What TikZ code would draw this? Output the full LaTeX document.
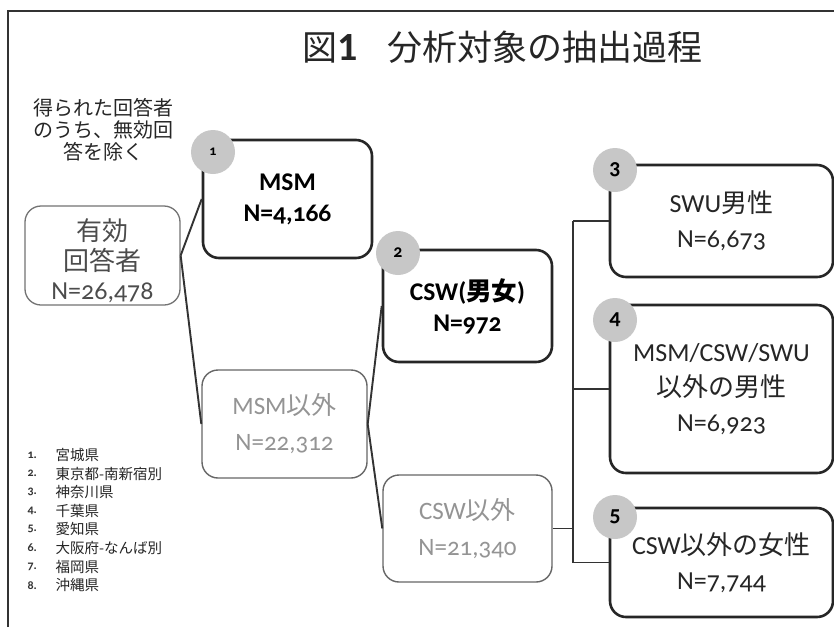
\documentclass[tikz,border=0pt]{standalone}
\usepackage{fontspec}
\setmainfont{Noto Sans CJK JP}
\newfontfamily\lat{Carlito}[Numbers=OldStyle]
\newfontfamily\latlin{Carlito}
\begin{document}
\begin{tikzpicture}[x=1pt,y=-1pt,
  box/.style={draw, rounded corners=16pt, fill=white, align=center, inner sep=0pt},
  strongbox/.style={box, line width=2.6pt, draw=black!85, text=black, font=\fontsize{25.5}{31}\selectfont\bfseries},
  firstbox/.style={box, line width=1.3pt, draw=black!55},
  firsttext/.style={align=center, text=black!70, font=\fontsize{26}{29.5}\selectfont},
  palebox/.style={box, line width=1.4pt, draw=black!60, text=black!42, font=\fontsize{25}{36}\selectfont},
  finalbox/.style={box, line width=2.6pt, draw=black!85, text=black!85, font=\fontsize{26}{35}\selectfont},
  badge/.style={circle, fill=black!22, minimum size=44pt, inner sep=0pt, text=black, font=\lat\bfseries\fontsize{22}{22}\selectfont},
  link/.style={line width=1.9pt, draw=black!80},
  legnum/.style={anchor=west, text=black!80, font=\lat\bfseries\fontsize{12}{12}\selectfont},
  legtxt/.style={anchor=west, text=black!85, font=\fontsize{14.5}{14.5}\selectfont},
]
\useasboundingbox (0,0) rectangle (834,627);
\fill[white] (0,0) rectangle (834,627);
% frame
\draw[line width=1.6pt, black!80] (8,627) -- (8,11) -- (834,11);
% title
\node[anchor=west, text=black!85, font=\fontsize{35}{40}\selectfont] (title) at (299,47)
  {図{\latlin\bfseries\fontsize{40}{40}\selectfont 1}\hspace{30pt}分析対象の抽出過程};
% note
\node[align=center, text=black!85, font=\fontsize{20}{22}\selectfont] (note) at (103,130)
  {得られた回答者\\のうち、無効回\\答を除く};
% boxes
\node[firstbox, minimum width=155pt, minimum height=99pt] (yuko) at (102.5,255.5) {};
\node[firsttext] (yukotext) at (102.5,261) {有効\\回答者\\{\lat N=26,478}};
\node[strongbox, minimum width=169pt, minimum height=118pt] (msm) at (287.5,199)
  {{\lat MSM}\\{\lat N=4,166}};
\node[palebox, minimum width=165pt, minimum height=108pt] (nonmsm) at (284.5,424)
  {{\lat MSM}以外\\{\lat N=22,312}};
\node[strongbox, minimum width=169pt, minimum height=112pt] (csw) at (467.5,306)
  {{\lat CSW(}男女{\lat )}\\{\lat N=972}};
\node[palebox, minimum width=169pt, minimum height=107pt] (noncsw) at (467.5,528.5)
  {{\lat CSW}以外\\{\lat N=21,340}};
\node[finalbox, minimum width=223pt, minimum height=112pt] (b3) at (721.5,221)
  {{\lat SWU}男性\\{\lat N=6,673}};
\node[finalbox, minimum width=223pt, minimum height=168pt] (b4) at (721.5,389)
  {{\lat MSM/CSW/SWU}\\以外の男性\\{\lat N=6,923}};
\node[finalbox, minimum width=223pt, minimum height=109pt] (b5) at (721.5,562.5)
  {{\lat CSW}以外の女性\\{\lat N=7,744}};
% connectors
\coordinate (trunk) at (573,0);
\draw[link] (yuko.east) -- (msm.west);
\draw[link] (yuko.east) -- (nonmsm.west);
\draw[link] (nonmsm.east) -- (csw.west);
\draw[link] (nonmsm.east) -- (noncsw.west);
\draw[link] (noncsw.east) -- (noncsw.east -| trunk);
\draw[link] (b3.west -| trunk) -- (b5.west -| trunk);
\draw[link] (b3.west -| trunk) -- (b3.west);
\draw[link] (b4.west -| trunk) -- (b4.west);
\draw[link] (b5.west -| trunk) -- (b5.west);
% badges
\node[badge, font=\lat\bfseries\fontsize{14}{14}\selectfont] (c1) at (213,152) {1};
\node[badge, font=\lat\bfseries\fontsize{18}{18}\selectfont] (c2) at (398,253) {2};
\node[badge] (c3) at (615,170) {3};
\node[badge] (c4) at (615,320) {4};
\node[badge] (c5) at (615,517) {5};
% legend
\foreach \t [count=\k] in {宮城県,東京都-南新宿別,神奈川県,千葉県,愛知県,大阪府-なんば別,福岡県,沖縄県}{
  \node[legnum] (ln\k) at (24,{455+18.6*(\k-1)}) {\k.};
  \node[legtxt] (lt\k) at (52,{455+18.6*(\k-1)}) {\t};
}
\end{tikzpicture}
\end{document}
